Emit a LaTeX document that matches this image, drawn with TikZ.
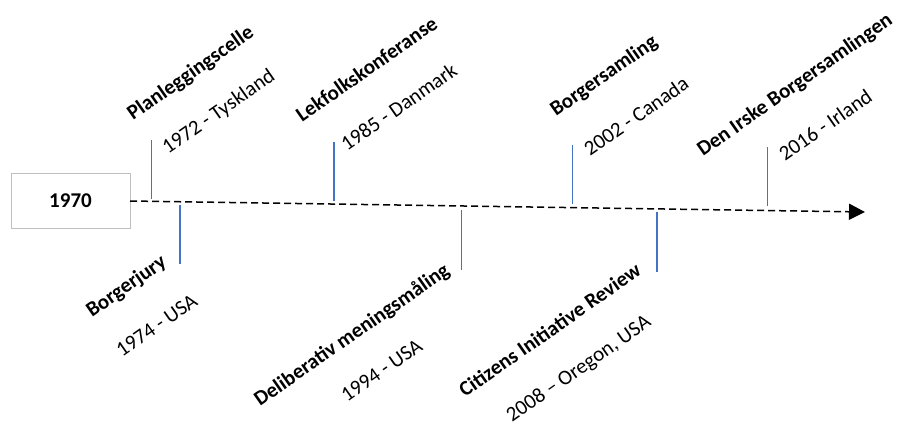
\documentclass[tikz,border=0pt]{standalone}
\usepackage{fontspec}
\setmainfont{Carlito}
\usetikzlibrary{arrows.meta}
\tikzset{>=latex}
\definecolor{stemblue}{HTML}{4472C4}
\tikzset{
  event/.style={rotate=35,anchor=base west,inner sep=0pt,font=\bfseries\fontsize{21}{25}\selectfont},
  place/.style={rotate=35,anchor=base west,inner sep=0pt,font=\fontsize{21}{25}\selectfont},
  stem/.style={stemblue,line width=1.2pt},
}

\begin{document}
\begin{tikzpicture}[x=1pt,y=-1pt]
  \useasboundingbox (0,0) rectangle (899,426);
  \node[draw=gray!50,minimum width=119pt,minimum height=55pt,
        font=\bfseries\fontsize{21}{25}\selectfont] (start) at (70.5,201) {1970};
  \coordinate (end) at (865,212);
  \draw[dash pattern=on 7pt off 4pt,line width=1.5pt,
        -{Triangle[length=16pt,width=16pt]}] (start.east) -- (end);
  % stems
  \foreach \n/\x/\a/\b in {plan/151.5/140/199, lek/334/142/201,
      borg/572.7/145/204, irsk/767.7/147/206, jury/180/205/264,
      delib/461.7/210/270, cir/657/212/272}{
    \coordinate (\n-top) at (\x,\a);
    \coordinate (\n-bot) at (\x,\b);
    \draw[stem] (\n-top) -- (\n-bot);
  }
  % above the line
  \node[event] (plan-name) at (133,121) {Planleggingscelle};
  \node[place] (plan-year) at (168,155) {1972 - Tyskland};
  \node[event] (lek-name) at (302,123) {Lekfolkskonferanse};
  \node[place] (lek-year) at (347,152) {1985 - Danmark};
  \node[event] (borg-name) at (556,117) {Borgersamling};
  \node[place] (borg-year) at (590,157) {2002 - Canada};
  \node[event] (irsk-name) at (703,157) {Den Irske Borgersamlingen};
  \node[place] (irsk-year) at (785,162) {2016 - Irland};
  % below the line
  \node[event] (jury-name) at (92,318) {Borgerjury};
  \node[place] (jury-year) at (122,358) {1974 - USA};
  \node[event] (delib-name) at (260,407) {Deliberativ meningsmåling};
  \node[place] (delib-year) at (347,403) {1994 - USA};
  \node[event] (cir-name) at (465,398) {Citizens Initiative Review};
  \node[place] (cir-year) at (512,423) {2008 -- Oregon, USA};
\end{tikzpicture}
\end{document}
